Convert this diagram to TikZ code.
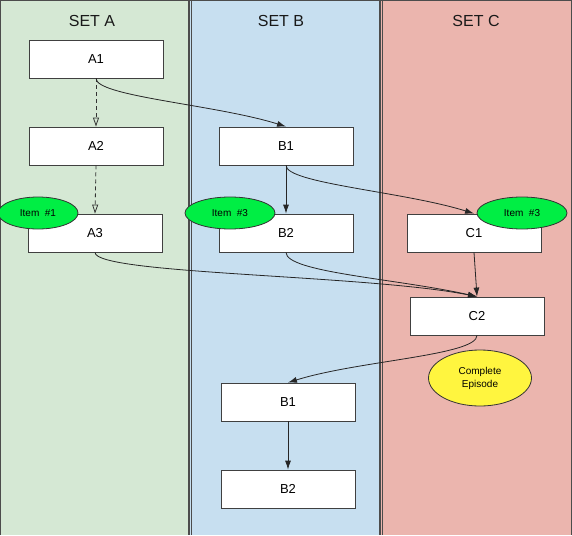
\documentclass[tikz,border=0pt]{standalone}
\usepackage{fontspec}
\setmainfont{Liberation Sans}
\usepackage{xcolor}
\usepackage{tikz}
\usetikzlibrary{positioning, arrows.meta, shapes.geometric}

\definecolor{laneA}{HTML}{D5E8D4}
\definecolor{laneB}{HTML}{C7DFF0}
\definecolor{laneC}{HTML}{EBB5AE}
\definecolor{tagGreen}{HTML}{00EE44}
\definecolor{noteYellow}{HTML}{FFF53F}

\begin{document}
\begin{tikzpicture}[
    x=1pt, y=-1pt,
    lane/.style = {
        draw=black!70, line width=1.2pt
    },
    lanetitle/.style = {
        font=\fontsize{16}{18}\selectfont, text=black!90
    },
    stepbox/.style = {
        rectangle, draw=black!75, fill=white, line width=0.8pt,
        minimum width=134pt, minimum height=38pt, inner sep=0pt,
        font=\fontsize{13}{15}\selectfont
    },
    tag/.style = {
        ellipse, draw=black!80, fill=tagGreen, line width=0.8pt,
        minimum width=90pt, minimum height=32pt, inner sep=0pt,
        font=\fontsize{10}{12}\selectfont
    },
    note/.style = {
        ellipse, draw=black!80, fill=noteYellow, line width=0.8pt,
        minimum width=103pt, minimum height=56pt, inner sep=0pt,
        align=center, font=\fontsize{10}{13}\selectfont
    },
    arrow/.style = {
        -{Latex[length=9pt, width=6pt]}, draw=black!85, line width=0.8pt
    },
    dasharrow/.style = {
        -{Triangle[open, length=9pt, width=6pt]}, draw=black!80,
        line width=0.8pt, dash pattern=on 4pt off 3pt
    }
]

% ── Lanes ──
\useasboundingbox (0,0) rectangle (572,535);
\fill[laneA] (0,0) rectangle (190,535);
\fill[laneB] (190,0) rectangle (381,535);
\fill[laneC] (381,0) rectangle (572,535);
\draw[lane] (0.6,535) -- (0.6,0.6) -- (571.4,0.6) -- (571.4,535);
\draw[lane] (189,0) -- (189,535);
\draw[lane] (191.5,0) -- (191.5,535);
\draw[lane] (380,0) -- (380,535);
\draw[lane] (382.5,0) -- (382.5,535);

\node[lanetitle] (tA) at (92,21)  {SET A};
\node[lanetitle] (tB) at (281,21) {SET B};
\node[lanetitle] (tC) at (476,21) {SET C};

% ── Steps ──
\node[stepbox] (a1) at (96,59)  {A1};
\node[stepbox] (a2) at (96,146) {A2};
\node[stepbox] (a3) at (95,233) {A3};

\node[stepbox] (b1) at (286,146) {B1};
\node[stepbox] (b2) at (286,233) {B2};
\node[stepbox] (b3) at (288,402) {B1};
\node[stepbox] (b4) at (288,489) {B2};

\node[stepbox] (c1) at (474,233) {C1};
\node[stepbox] (c2) at (477,316) {C2};

% ── Item tags ──
\node[tag, minimum width=80pt] (i1) at (38,213) {Item~~\#1};
\node[tag] (i3b) at (230,213) {Item~~\#3};
\node[tag] (i3c) at (522,213) {Item~~\#3};

\node[note] (done) at (480,378) {Complete\\Episode};

% ── Arrows: set A ──
\draw[dasharrow] (a1.south) -- (a2.north);
\draw[dasharrow] (a2.south) -- (a3.north);

% ── Arrows: across sets ──
\draw[arrow] (a1.south) .. controls +(0,18) and +(-70,-22) .. (b1.north);
\draw[arrow] (b1.south) -- (b2.north);
\draw[arrow] (b1.south) .. controls +(0,18) and +(-70,-22) .. (c1.north);
\draw[arrow] (a3.south) .. controls +(0,22) and +(-110,-22) .. (c2.north);
\draw[arrow] (b2.south) .. controls +(0,20) and +(-80,-18) .. (c2.north);
\draw[arrow] (c1.south) -- (c2.north);
\draw[arrow] (c2.south) .. controls +(0,20) and +(70,-22) .. (b3.north);
\draw[arrow] (b3.south) -- (b4.north);

\end{tikzpicture}
\end{document}
